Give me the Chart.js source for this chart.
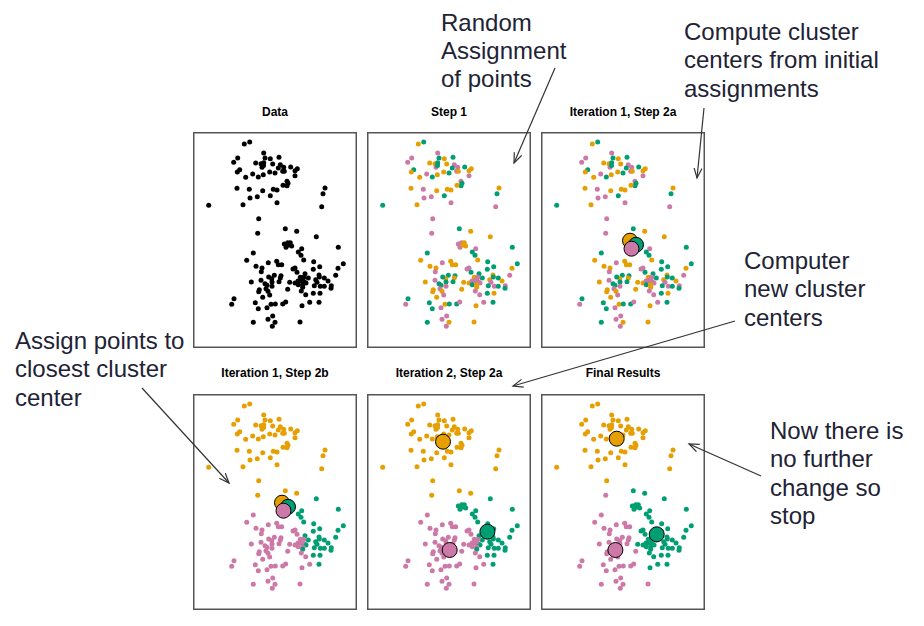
<!DOCTYPE html>
<html>
<head>
<meta charset="utf-8">
<script src="https://cdn.jsdelivr.net/npm/chart.js@4.4.1/dist/chart.umd.min.js"></script>
<style>
  body { margin: 0; background: #fff; }
  #page { position: relative; width: 924px; height: 626px; overflow: hidden; font-family: "Liberation Sans", Arial, sans-serif; }
  .panel { position: absolute; width: 164px; height: 216px; }
  .title { position: absolute; width: 164px; text-align: center; font-size: 12px; font-weight: bold; line-height: 14px; color: #000; }
  .note { position: absolute; font-size: 24px; line-height: 28.3px; color: #222235; white-space: nowrap; }
  svg { position: absolute; left: 0; top: 0; }
</style>
</head>
<body>
<div id="page">
  <div class="title" style="left:193px;top:105px">Data</div>
  <div class="title" style="left:367px;top:105px">Step 1</div>
  <div class="title" style="left:541px;top:105px">Iteration 1, Step 2a</div>
  <div class="title" style="left:193px;top:366px">Iteration 1, Step 2b</div>
  <div class="title" style="left:367px;top:366px">Iteration 2, Step 2a</div>
  <div class="title" style="left:541px;top:366px">Final Results</div>

  <div class="panel" style="left:193px;top:132px"><canvas id="pData" width="164" height="216"></canvas></div>
  <div class="panel" style="left:367px;top:132px"><canvas id="pStep1" width="164" height="216"></canvas></div>
  <div class="panel" style="left:541px;top:132px"><canvas id="pIter1a" width="164" height="216"></canvas></div>
  <div class="panel" style="left:193px;top:394px"><canvas id="pIter1b" width="164" height="216"></canvas></div>
  <div class="panel" style="left:367px;top:394px"><canvas id="pIter2a" width="164" height="216"></canvas></div>
  <div class="panel" style="left:541px;top:394px"><canvas id="pFinal" width="164" height="216"></canvas></div>

  <div class="note" style="left:441px;top:8.5px">Random<br>Assignment<br>of points</div>
  <div class="note" style="left:684px;top:18px">Compute cluster<br>centers from initial<br>assignments</div>
  <div class="note" style="left:744px;top:247px">Computer<br>new cluster<br>centers</div>
  <div class="note" style="left:15px;top:327px">Assign points to<br>closest cluster<br>center</div>
  <div class="note" style="left:770px;top:417px">Now there is<br>no further<br>change so<br>stop</div>

  <svg width="924" height="626">
    <defs>
      <marker id="head" markerWidth="12" markerHeight="12" refX="10" refY="5" orient="auto" markerUnits="userSpaceOnUse">
        <path d="M0,1 L10,5 L0,9" fill="none" stroke="#333" stroke-width="1.2"/>
      </marker>
    </defs>
    <g stroke="#333" stroke-width="1.2" fill="none" marker-end="url(#head)">
      <line x1="555" y1="68" x2="514" y2="163"/>
      <line x1="704" y1="108" x2="697" y2="178"/>
      <line x1="735" y1="321" x2="513" y2="386"/>
      <line x1="142" y1="388" x2="229" y2="483"/>
      <line x1="761" y1="476" x2="689" y2="444"/>
    </g>
  </svg>
</div>

<script>
// Observations (two features)
let x1 = [
  5.13, 5.67, 7.07, 7.20, 4.47, 4.07, 7.73, 8.60, 6.27, 6.80,
  7.07, 6.90, 7.05, 8.73, 9.07, 8.53, 9.77, 10.43, 10.20, 8.97,
  9.13, 4.67, 4.43, 5.97, 7.03, 7.67, 8.20, 6.53, 5.27, 10.20,
  9.40, 9.50, 9.40, 9.00, 4.40, 5.63, 6.97, 8.03, 8.40, 13.20,
  13.00, 5.70, 6.43, 7.73, 1.57, 5.00, 8.40, 12.87, 6.57, 9.23,
  10.37, 6.47, 12.33, 7.97,
  9.13, 9.47, 9.73, 9.87, 9.30, 9.57, 10.87, 10.53, 10.80, 6.03,
  14.53, 5.37, 7.53, 8.37, 8.53, 8.87, 11.07, 12.07, 15.03, 12.67,
  6.30, 6.90, 6.83, 10.00, 10.20, 10.40, 12.03, 14.50, 14.27, 11.20,
  8.80, 8.13, 7.87, 7.57, 8.73, 11.53, 10.73, 11.07, 12.60, 12.27,
  12.63, 13.13, 13.50, 5.83, 6.80, 7.20, 7.40, 7.90, 8.60, 9.67,
  10.20, 10.50, 10.80, 11.13, 11.30, 10.97, 10.53, 10.97, 10.97, 12.40,
  12.13, 12.73, 13.13, 13.83, 13.80, 7.90, 7.30, 6.63, 6.57, 7.50,
  7.67, 6.97, 9.47, 10.83, 11.27, 12.03, 12.70, 4.10, 3.87, 6.23,
  6.53, 7.40, 7.80, 8.23, 8.97, 9.27, 10.90, 11.67, 12.60, 7.97,
  7.50, 8.20, 7.93, 6.03, 10.70
];
let x2 = [
  20.40, 20.60, 19.50, 19.00, 19.00, 18.57, 18.93, 19.07, 18.50, 18.43,
  18.53, 18.07, 18.25, 18.33, 18.07, 18.00, 18.10, 17.93, 17.73, 17.67,
  17.67, 17.83, 17.60, 17.40, 17.33, 17.60, 17.50, 17.10, 17.07, 17.23,
  16.67, 16.47, 16.23, 16.27, 15.97, 15.87, 15.73, 15.87, 15.80, 16.00,
  15.43, 15.00, 15.13, 15.23, 14.27, 14.33, 14.53, 14.13, 12.93, 11.93,
  11.67, 11.47, 11.13, 18.40,
  10.40, 10.53, 10.53, 10.20, 10.07, 10.30, 9.93, 9.60, 9.27, 9.50,
  10.07, 8.77, 8.53, 8.67, 8.33, 8.33, 8.80, 8.63, 8.43, 8.13,
  8.17, 8.00, 7.63, 7.90, 8.00, 7.57, 7.87, 7.97, 7.27, 7.43,
  7.23, 7.27, 6.93, 7.10, 7.00, 7.00, 7.07, 7.07, 7.30, 6.83,
  7.10, 7.00, 6.70, 6.60, 6.77, 6.43, 6.27, 6.60, 6.63, 6.57,
  6.50, 6.70, 6.73, 6.60, 6.50, 6.83, 6.33, 6.33, 6.07, 6.57,
  6.23, 6.17, 6.17, 6.23, 5.97, 6.17, 5.93, 5.83, 5.63, 5.67,
  5.30, 5.07, 5.87, 5.70, 5.33, 5.47, 5.47, 4.93, 4.37, 4.53,
  3.93, 4.03, 4.37, 4.40, 4.40, 4.60, 4.23, 4.57, 4.57, 3.20,
  2.87, 2.57, 2.17, 2.57, 2.60
];

// Cluster labels per observation: O = orange, G = green, P = pink
let step1Groups = ("OGPGPPOGOO" + "GPGPPGGOOP" + "OGOPOOGGOP" + "PGGOOPOOOO" + "GPPGGOPPPG" + "OPOO" +
  "PPOOPOPGGG" + "GOPOOOOGGG" + "OOPPPGGOPG" + "GGOGOGOPOO" + "GGOOPGGGGO" +
  "OPPPPPGOOP" + "GPGPGPPOOO" + "POOPPGOGPG" + "GPOGGPOPGP" + "POPGO").split("");
let step2Groups = ("OOOOOOOOOO" + "OOOOOOOOOO" + "OOOOOOOOOO" + "OOOOOOOOOO" + "OOOOOOOOOO" + "OOGO" +
  "GGGGGGGGGP" + "GPPPPPGGGG" + "PPPPPPGGGG" + "PPPPPGPPGG" + "GGGPPPPPPP" +
  "PPPGGPPPGG" + "GGGGGPPPPP" + "PPPPPGGPPP" + "PPPPPPPPGP" + "PPPPP").split("");
let finalGroups = ("OOOOOOOOOO" + "OOOOOOOOOO" + "OOOOOOOOOO" + "OOOOOOOOOO" + "OOOOOOOOOG" + "GPGO" +
  "GGGGGGGGGP" + "GPPPPPGGGG" + "PPPGGGGGGG" + "PPPPPGGGGG" + "GGGPPPPPPG" +
  "GGGGGGGGGG" + "GGGGGPPPPP" + "PPPGGGGPPP" + "PPPPPPGGGP" + "PPPPP").split("");

// Cluster centers, order: orange, green, pink
let centers1X = [8.90, 9.50, 9.05];
let centers1Y = [10.73, 10.32, 9.93];
let centers2X = [7.60, 12.04, 8.27];
let centers2Y = [16.83, 7.83, 6.00];
let centersFinalX = [7.57, 11.57, 7.44];
let centersFinalY = [17.13, 7.57, 6.00];

let palette = { O: "#E69F00", G: "#009E73", P: "#CC79A7" };
let centerKeys = ["O", "G", "P"];

const framePlugin = {
  id: "frame",
  afterDraw(chart) {
    const { ctx, chartArea: a } = chart;
    ctx.save();
    ctx.strokeStyle = "#555";
    ctx.lineWidth = 1.5;
    ctx.strokeRect(a.left + 0.75, a.top + 0.75, a.width - 1.5, a.height - 1.5);
    ctx.restore();
  }
};

function makePanel(id, groups, cx, cy) {
  let pts = x1.map((v, i) => ({ x: v, y: x2[i] }));
  let colors = groups ? groups.map(g => palette[g]) : "#000";
  let datasets = [{
    data: pts,
    pointRadius: 2.5,
    pointBorderWidth: 0,
    pointBackgroundColor: colors,
    order: 5
  }];
  if (cx) {
    cx.forEach((v, k) => {
      datasets.push({
        data: [{ x: v, y: cy[k] }],
        pointRadius: 7.5,
        pointBorderWidth: 1,
        pointBorderColor: "#000",
        pointBackgroundColor: palette[centerKeys[k]],
        order: 2 - k
      });
    });
  }
  new Chart(document.getElementById(id), {
    type: "scatter",
    data: { datasets: datasets },
    options: {
      responsive: false,
      animation: false,
      events: [],
      layout: { padding: 0, autoPadding: false },
      plugins: { legend: { display: false }, tooltip: { enabled: false } },
      scales: {
        x: { display: false, min: 0, max: 16.4 },
        y: { display: false, min: 0, max: 21.6 }
      }
    },
    plugins: [framePlugin]
  });
}

makePanel("pData", null, null, null);
makePanel("pStep1", step1Groups, null, null);
makePanel("pIter1a", step1Groups, centers1X, centers1Y);
makePanel("pIter1b", step2Groups, centers1X, centers1Y);
makePanel("pIter2a", step2Groups, centers2X, centers2Y);
makePanel("pFinal", finalGroups, centersFinalX, centersFinalY);
</script>
</body>
</html>
